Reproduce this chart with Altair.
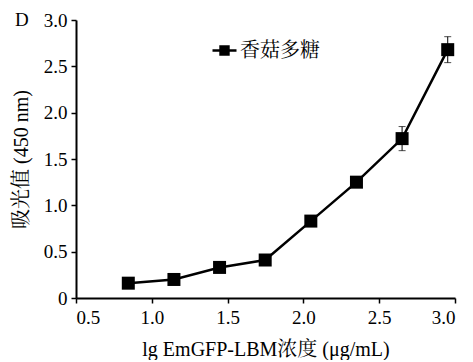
import altair as alt
import pandas as pd

# data
x_vals = [0.845, 1.146, 1.447, 1.748, 2.049, 2.350, 2.651, 2.952]
y_vals = [0.16, 0.20, 0.33, 0.41, 0.83, 1.25, 1.72, 2.68]
err_vals = [0.02, 0.03, 0.03, 0.03, 0.05, 0.04, 0.13, 0.14]
series = ["香菇多糖"] * len(x_vals)
x_ticks = [0.5, 1.0, 1.5, 2.0, 2.5, 3.0]
y_ticks = [0, 0.5, 1.0, 1.5, 2.0, 2.5, 3.0]

df = pd.DataFrame({"x": x_vals, "y": y_vals, "err": err_vals, "s": series})
df["lo"] = df["y"] - df["err"]
df["hi"] = df["y"] + df["err"]

FONT = "Liberation Serif, Noto Serif CJK SC, Noto Sans CJK SC"

xs = alt.Scale(domain=[0.5, 3.0], nice=False, zero=False)
ys = alt.Scale(domain=[0, 3.0], nice=False)

xaxis = alt.Axis(values=x_ticks, format=".1f", grid=False, title="lg EmGFP-LBM浓度 (μg/mL)",
                 titlePadding=12)
yaxis = alt.Axis(values=y_ticks, grid=False, title="吸光值 (450 nm)",
                 labelExpr="datum.value == 0 ? '0' : format(datum.value, '.1f')",
                 titlePadding=12)

base = alt.Chart(df)

err_rule = base.mark_rule(color="black", strokeWidth=1).encode(
    x=alt.X("x:Q", scale=xs, axis=xaxis),
    y=alt.Y("lo:Q", scale=ys, axis=yaxis),
    y2="hi:Q",
)
cap_lo = base.mark_tick(color="black", thickness=1, size=7, orient="horizontal").encode(
    x=alt.X("x:Q", scale=xs), y=alt.Y("lo:Q", scale=ys))
cap_hi = base.mark_tick(color="black", thickness=1, size=7, orient="horizontal").encode(
    x=alt.X("x:Q", scale=xs), y=alt.Y("hi:Q", scale=ys))

legend_path = "M-1,0H1M-0.33,-0.33H0.33V0.33H-0.33Z"

line = base.mark_line(strokeWidth=2.5).encode(
    x=alt.X("x:Q", scale=xs),
    y=alt.Y("y:Q", scale=ys),
    color=alt.Color("s:N", scale=alt.Scale(range=["black"]), title=None,
                    legend=alt.Legend(orient="none", legendX=135, legendY=17,
                                      symbolType=legend_path, symbolSize=576,
                                      symbolStrokeWidth=2.5, symbolFillColor="black",
                                      symbolStrokeColor="black",
                                      labelFont=FONT, labelFontSize=20, labelColor="black",
                                      labelOffset=2)),
)
pts = base.mark_square(size=169, color="black", opacity=1, filled=True).encode(
    x=alt.X("x:Q", scale=xs),
    y=alt.Y("y:Q", scale=ys),
)
letter = alt.Chart(pd.DataFrame({"t": ["D"]})).mark_text(
    font=FONT, fontSize=19, color="black", align="left", baseline="middle"
).encode(x=alt.value(-61), y=alt.value(0), text="t:N")

chart = alt.layer(err_rule, cap_lo, cap_hi, line, pts, letter).properties(
    width=379, height=278,
    autosize=alt.AutoSizeParams(type="none"),
    padding={"left": 68, "top": 12, "right": 10, "bottom": 62},
).configure_view(stroke=None).configure_axis(
    domainColor="black", domainWidth=2, tickColor="black", tickWidth=1.5, tickSize=5,
    labelFont=FONT, labelFontSize=19, labelColor="black", labelPadding=4,
    titleFont=FONT, titleFontSize=20, titleColor="black", titleFontWeight="normal",
).configure_axisX(labelPadding=5)

chart.save("out.html", embed_options={"renderer": "svg", "actions": False})
